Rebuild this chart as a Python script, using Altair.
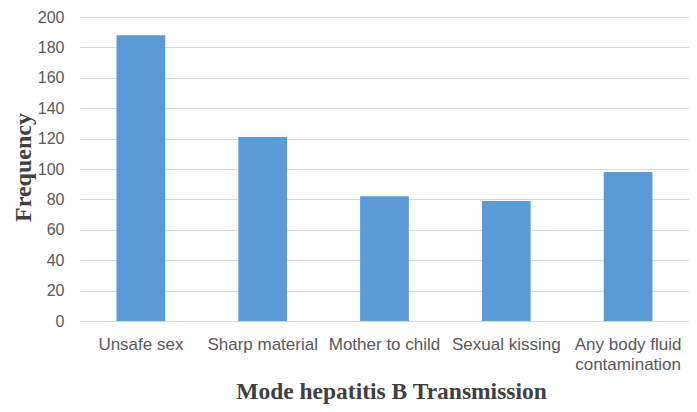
import altair as alt
import pandas as pd

categories = ["Unsafe sex", "Sharp material", "Mother to child", "Sexual kissing",
              "Any body fluid contamination"]
frequency = [188, 121, 82, 79, 98]
y_ticks = [0, 20, 40, 60, 80, 100, 120, 140, 160, 180, 200]

df = pd.DataFrame({"mode": categories, "freq": frequency})

label_font = "Liberation Sans"
title_font = "Liberation Serif"

chart = alt.Chart(df).mark_bar(color="#5B9BD5").encode(
    x=alt.X(
        "mode:N",
        sort=categories,
        scale=alt.Scale(paddingInner=0.6, paddingOuter=0.3),
        axis=alt.Axis(
            title="Mode hepatitis B Transmission",
            titleFont=title_font,
            titleFontSize=23.5,
            titleFontWeight="bold",
            titleColor="#404040",
            titleX=311,
            titleY=77,
            titleBaseline="alphabetic",
            titleAnchor="start",
            titleAlign="center",
            labelFont=label_font,
            labelFontSize=17,
            labelColor="#595959",
            labelAngle=0,
            labelPadding=15,
            labelLineHeight=20,
            labelExpr="datum.label == 'Any body fluid contamination' ? ['Any body fluid', 'contamination'] : datum.label",
            ticks=False,
            domainColor="#D9D9D9",
            domainWidth=1,
            grid=False,
        ),
    ),
    y=alt.Y(
        "freq:Q",
        scale=alt.Scale(domain=[0, 200], nice=False),
        axis=alt.Axis(
            title="Frequency",
            titleFont=title_font,
            titleFontSize=24,
            titleFontWeight="bold",
            titleColor="#404040",
            titleAngle=270,
            titleX=-50,
            titleY=150,
            titleBaseline="alphabetic",
            titleAlign="center",
            values=y_ticks,
            labelFont=label_font,
            labelFontSize=16,
            labelColor="#595959",
            labelPadding=16,
            ticks=False,
            domain=False,
            grid=True,
            gridColor="#D9D9D9",
            gridWidth=1,
        ),
    ),
).properties(
    width=609,
    height=304,
    padding={"left": 72, "top": 9, "right": 0, "bottom": 83},
    autosize=alt.AutoSizeParams(type="none"),
).configure_view(stroke=None)

chart.save("out.html", embed_options={"renderer": "svg", "actions": False})
